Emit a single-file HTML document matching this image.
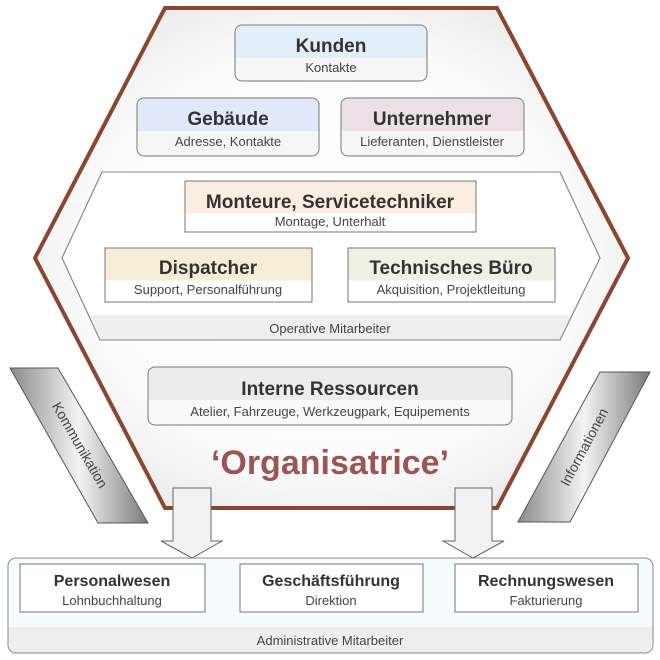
<!DOCTYPE html>
<html><head><meta charset="utf-8"><style>
html,body{margin:0;padding:0;background:#fff}
svg{display:block}
text{font-family:"Liberation Sans",sans-serif}
</style></head><body>
<svg width="660" height="660" viewBox="0 0 660 660" xmlns="http://www.w3.org/2000/svg">
<defs>
<radialGradient id="hexg" cx="0.5" cy="0.5" r="0.6">
<stop offset="0" stop-color="#ffffff"/><stop offset="0.7" stop-color="#fbfbfb"/><stop offset="1" stop-color="#e8e8e8"/>
</radialGradient>
<linearGradient id="parL" x1="0" y1="0" x2="1" y2="0">
<stop offset="0" stop-color="#8a8a8a"/><stop offset="0.5" stop-color="#f4f4f4"/><stop offset="1" stop-color="#7a7a7a"/>
</linearGradient>
</defs>
<polygon points="165,8 497,8 628,258 497,508 165,508 35,258" fill="url(#hexg)" stroke="#8b4630" stroke-width="4" stroke-linejoin="miter"/>
<!-- operative hexagon -->
<polygon points="102,172 560,172 600,258 560,340 100,340 62,258" fill="#fff" stroke="#888" stroke-width="1"/>
<path d="M90,315 L572,315 L560,340 L100,340 Z" fill="#eeeeee"/>
<polygon points="102,172 560,172 600,258 560,340 100,340 62,258" fill="none" stroke="#888" stroke-width="1"/>
<text x="330" y="333" font-size="13" fill="#444" text-anchor="middle">Operative Mitarbeiter</text>

<!-- Kunden -->
<rect x="235" y="25" width="192" height="56" rx="7" fill="#f6f6f6" stroke="#777"/>
<path d="M242,25.5 h178 a6.5,6.5 0 0 1 6.5,6.5 v26 h-191 v-26 a6.5,6.5 0 0 1 6.5,-6.5z" fill="#e2eef9"/>
<text x="331" y="52" font-size="19" font-weight="bold" fill="#333" text-anchor="middle">Kunden</text>
<text x="331" y="72" font-size="13" fill="#444" text-anchor="middle">Kontakte</text>

<rect x="137" y="98" width="182" height="58" rx="7" fill="#f6f6f6" stroke="#777"/>
<path d="M144,98.5 h168 a6.5,6.5 0 0 1 6.5,6.5 v26 h-181 v-26 a6.5,6.5 0 0 1 6.5,-6.5z" fill="#e0e8f9"/>
<text x="228" y="125" font-size="19" font-weight="bold" fill="#333" text-anchor="middle">Gebäude</text>
<text x="228" y="146" font-size="13" fill="#444" text-anchor="middle">Adresse, Kontakte</text>

<rect x="341" y="98" width="183" height="58" rx="7" fill="#f6f6f6" stroke="#777"/>
<path d="M348,98.5 h169 a6.5,6.5 0 0 1 6.5,6.5 v26 h-182 v-26 a6.5,6.5 0 0 1 6.5,-6.5z" fill="#ece0e6"/>
<text x="432" y="125" font-size="19" font-weight="bold" fill="#333" text-anchor="middle">Unternehmer</text>
<text x="432" y="146" font-size="13" fill="#444" text-anchor="middle">Lieferanten, Dienstleister</text>

<!-- Monteure -->
<rect x="185" y="181" width="291" height="51" fill="#fff" stroke="#777"/>
<rect x="185.5" y="181.5" width="290" height="32" fill="#fbeee0"/>
<text x="330" y="208" font-size="19" font-weight="bold" fill="#333" text-anchor="middle">Monteure, Servicetechniker</text>
<text x="330" y="226" font-size="13" fill="#444" text-anchor="middle">Montage, Unterhalt</text>

<rect x="105" y="248" width="207" height="54" fill="#fff" stroke="#777"/>
<rect x="105.5" y="248.5" width="206" height="32" fill="#f7edd6"/>
<text x="208" y="274" font-size="19" font-weight="bold" fill="#333" text-anchor="middle">Dispatcher</text>
<text x="208" y="294" font-size="13" fill="#444" text-anchor="middle">Support, Personalführung</text>

<rect x="348" y="248" width="207" height="54" fill="#fff" stroke="#777"/>
<rect x="348.5" y="248.5" width="206" height="32" fill="#eef1e3"/>
<text x="451" y="274" font-size="19" font-weight="bold" fill="#333" text-anchor="middle">Technisches Büro</text>
<text x="451" y="294" font-size="13" fill="#444" text-anchor="middle">Akquisition, Projektleitung</text>

<!-- Interne -->
<rect x="148" y="367" width="364" height="58" rx="7" fill="#fafafa" stroke="#777"/>
<path d="M155,367.5 h350 a6.5,6.5 0 0 1 6.5,6.5 v26 h-363 v-26 a6.5,6.5 0 0 1 6.5,-6.5z" fill="#ececec"/>
<text x="330" y="395" font-size="19" font-weight="bold" fill="#333" text-anchor="middle">Interne Ressourcen</text>
<text x="330" y="416" font-size="13" fill="#444" text-anchor="middle">Atelier,  Fahrzeuge, Werkzeugpark, Equipements</text>

<text x="330" y="474" font-size="34" font-weight="bold" fill="#9b5555" text-anchor="middle">‘Organisatrice’</text>

<!-- parallelograms -->
<polygon points="10,368 58,368 148,523 98,523" fill="url(#parL)" stroke="#555"/>
<text transform="translate(80,445) rotate(60)" x="0" y="5" font-size="14" fill="#444" text-anchor="middle">Kommunikation</text>
<polygon points="600,372 650,372 570,522 518,522" fill="url(#parL)" stroke="#555"/>
<text transform="translate(584,447) rotate(-62)" x="0" y="5" font-size="14" fill="#444" text-anchor="middle">Informationen</text>

<!-- admin -->
<rect x="8" y="558" width="645" height="95" rx="8" fill="#f6fbfe" stroke="#888"/>
<path d="M8.5,627 h644 v18 a7.5,7.5 0 0 1 -7.5,7.5 h-629 a7.5,7.5 0 0 1 -7.5,-7.5z" fill="#eeeeee"/>
<text x="330" y="645" font-size="13" fill="#444" text-anchor="middle">Administrative Mitarbeiter</text>

<!-- arrows -->
<polygon points="173,488 211,488 211,541 222,541 192,558 161,541 173,541" fill="#f2f2f2" stroke="#666"/>
<polygon points="455,488 492,488 492,541 504,541 473,558 443,541 455,541" fill="#f2f2f2" stroke="#666"/>

<rect x="20" y="564" width="185" height="48" fill="#fff" stroke="#777"/>
<text x="112" y="586" font-size="16" font-weight="bold" fill="#333" text-anchor="middle">Personalwesen</text>
<text x="112" y="605" font-size="13" fill="#444" text-anchor="middle">Lohnbuchhaltung</text>
<rect x="240" y="564" width="183" height="48" fill="#fff" stroke="#777"/>
<text x="331" y="586" font-size="16" font-weight="bold" fill="#333" text-anchor="middle">Geschäftsführung</text>
<text x="331" y="605" font-size="13" fill="#444" text-anchor="middle">Direktion</text>
<rect x="455" y="564" width="183" height="48" fill="#fff" stroke="#777"/>
<text x="546" y="586" font-size="16" font-weight="bold" fill="#333" text-anchor="middle">Rechnungswesen</text>
<text x="546" y="605" font-size="13" fill="#444" text-anchor="middle">Fakturierung</text>
</svg>
</body></html>
